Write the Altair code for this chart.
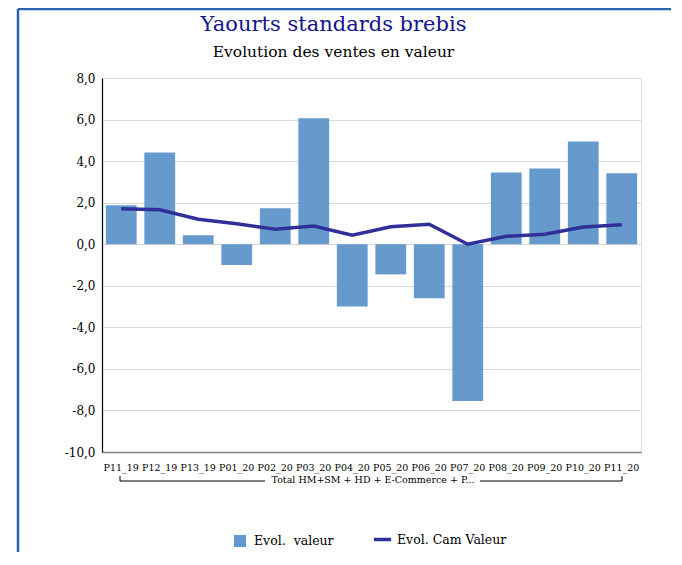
import altair as alt
import pandas as pd

periods = ["P11_19", "P12_19", "P13_19", "P01_20", "P02_20", "P03_20", "P04_20",
           "P05_20", "P06_20", "P07_20", "P08_20", "P09_20", "P10_20", "P11_20"]
evol_valeur = [1.87, 4.41, 0.43, -1.0, 1.73, 6.06, -3.0, -1.45, -2.6, -7.55, 3.45, 3.65, 4.94, 3.41]
evol_cam = [1.71, 1.66, 1.2, 0.99, 0.72, 0.88, 0.43, 0.84, 0.96, 0.0, 0.38, 0.48, 0.83, 0.94]
y_ticks = [8, 6, 4, 2, 0, -2, -4, -6, -8, -10]
bar_name = "Evol.\u00a0\u00a0valeur"
line_name = "Evol. Cam Valeur"
group_label = "Total HM+SM + HD + E-Commerce + P..."

df = pd.DataFrame({
    "periode": periods,
    "evol": evol_valeur,
    "cam": evol_cam,
    "s_bar": [bar_name] * len(periods),
    "s_line": [line_name] * len(periods),
})

W, H = 539, 374
FONT = "DejaVu Serif"

x_enc = alt.X("periode:N", sort=periods,
              scale=alt.Scale(paddingInner=0.2, paddingOuter=0.1),
              axis=alt.Axis(labelAngle=0, ticks=False, title=None, labelFont=FONT,
                            labelFontSize=9.5, labelColor="black", labelPadding=10,
                            domainColor="#7f7f7f", domainWidth=1.5, grid=False))
y_scale = alt.Scale(domain=[-10, 8], nice=False)
y_axis = alt.Axis(values=y_ticks, title=None, ticks=False, labelPadding=7,
                  labelExpr="(datum.value < 0 ? '-' : '') + replace(format(abs(datum.value), '.1f'), '.', ',')",
                  labelFont=FONT, labelFontSize=12, labelColor="black",
                  domainColor="black", domainWidth=1.2, gridColor="#d9d9d9")

bars = alt.Chart(df).mark_bar().encode(
    x=x_enc,
    y=alt.Y("evol:Q", scale=y_scale, axis=y_axis),
    color=alt.Color("s_bar:N", scale=alt.Scale(range=["#6699cc"]),
                    legend=alt.Legend(orient="none", legendX=131, legendY=456, title=None,
                                      symbolType="square", symbolSize=144, padding=0,
                                      labelFont=FONT, labelFontSize=12.5, labelColor="black",
                                      labelOffset=7)),
)

line = alt.Chart(df).mark_line(strokeWidth=3.5).encode(
    x=alt.X("periode:N", sort=periods),
    y=alt.Y("cam:Q", scale=y_scale),
    stroke=alt.Stroke("s_line:N", scale=alt.Scale(range=["#30309a"]),
                      legend=alt.Legend(orient="none", legendX=270, legendY=451, title=None,
                                        symbolType="stroke", symbolSize=300,
                                        symbolStrokeWidth=3.5, padding=0,
                                        labelFont=FONT, labelFontSize=12.5, labelColor="black",
                                        labelOffset=4)),
)

one = alt.Data(values=[{"k": 1}])

def rule(x, x2, y, y2, color="black", w=1.0):
    return alt.Chart(one).mark_rule(color=color, strokeWidth=w).encode(
        x=alt.value(x), x2=alt.value(x2), y=alt.value(y), y2=alt.value(y2))

bracket = [
    rule(18, 18, 398, 403),
    rule(18, 163, 403, 403),
    rule(378, 520, 403, 403),
    rule(520, 520, 398, 403),
]
bracket_text = alt.Chart(one).mark_text(font=FONT, fontSize=9.5, color="black",
                                        baseline="middle").encode(
    x=alt.value(271), y=alt.value(402), text=alt.value(group_label))

frame = [
    rule(-84, W + 60, -69, -69, color="#2a64b0", w=2.5),
    rule(-84, -84, -69, H + 120, color="#2a64b0", w=2.5),
]

chart = alt.layer(bars, line, *bracket, bracket_text, *frame).properties(
    width=W, height=H,
    autosize=alt.AutoSizeParams(type="none"),
    padding={"left": 94, "top": 70, "right": 30, "bottom": 100},
    title=alt.TitleParams(
        text="Yaourts standards brebis", subtitle="Evolution des ventes en valeur",
        anchor="middle", dx=-38, dy=53, offset=0, font=FONT, fontSize=21, fontWeight="normal",
        color="#14148c", subtitleFont=FONT, subtitleFontSize=15.5, subtitleColor="black",
        subtitlePadding=10),
).resolve_scale(color="independent").configure_view(stroke=None).configure(background="white")

chart.save("out.html", embed_options={"renderer": "svg", "actions": False})
